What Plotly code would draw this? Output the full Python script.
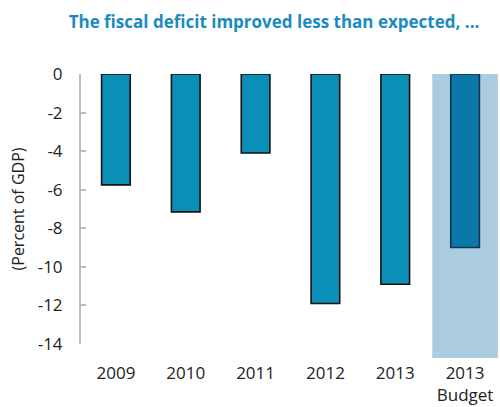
import plotly.graph_objects as go

# Fiscal balance, percent of GDP
categories = ["2009", "2010", "2011", "2012", "2013", "2013<br>Budget"]
balance = [-5.75, -7.15, -4.1, -11.9, -10.9, -9.0]
y_ticks = [0, -2, -4, -6, -8, -10, -12, -14]
y_tick_text = [str(v) for v in y_ticks]

bar_colors = ["#0a8fb7"] * 5 + ["#0c77a8"]
line_colors = ["#111111"] * 5 + ["#0b3550"]

fig = go.Figure()

fig.add_trace(go.Bar(
    x=categories,
    y=balance,
    width=0.41,
    marker=dict(
        color=bar_colors,
        line=dict(color=line_colors, width=1.6),
    ),
    showlegend=False,
    hoverinfo="x+y",
))

# Shaded band behind the budget column, running past the bottom of the axis
fig.add_shape(
    type="rect", xref="x", yref="paper",
    x0=4.53, x1=5.47, y0=-0.052, y1=1.0,
    fillcolor="#aacbe0", line=dict(width=0), layer="below",
)

fig.update_layout(
    width=500, height=407,
    margin=dict(l=81, r=0, t=74, b=63),
    paper_bgcolor="white", plot_bgcolor="rgba(0,0,0,0)",
    title=dict(
        text="<b>The fiscal deficit improved less than expected, ...</b>",
        font=dict(family="Open Sans", size=17, color="#1b8bbf", weight=700),
        x=0.548, xanchor="center", y=0.945, yanchor="middle",
    ),
    font=dict(family="Open Sans", size=17, color="#222222"),
    xaxis=dict(
        type="category", range=[-0.5, 5.5],
        showline=False, ticks="", showgrid=False,
        ticklabelstandoff=17,
        tickfont=dict(size=17, color="#222222"),
    ),
    xaxis2=dict(
        overlaying="x", side="top", anchor="y",
        range=[-0.5, 5.5], tickvals=[-0.5, 1.5, 3.5, 5.5],
        showticklabels=False, ticks="outside", ticklen=6, tickwidth=1.5,
        tickcolor="#aaaaaa", showline=True, linecolor="#aaaaaa", linewidth=2,
        showgrid=False, zeroline=False,
    ),
    yaxis=dict(
        range=[-14, 0], tickvals=y_ticks, ticktext=y_tick_text,
        ticks="inside", ticklen=5, tickwidth=1.5, tickcolor="#bbbbbb",
        showline=True, linecolor="#bbbbbb", linewidth=2,
        showgrid=False, zeroline=False,
        ticklabelstandoff=13,
        tickfont=dict(size=17, color="#222222"),
        title=dict(text="(Percent of GDP)", font=dict(size=16, color="#222222"), standoff=9),
    ),
)

fig.write_html("out.html")
